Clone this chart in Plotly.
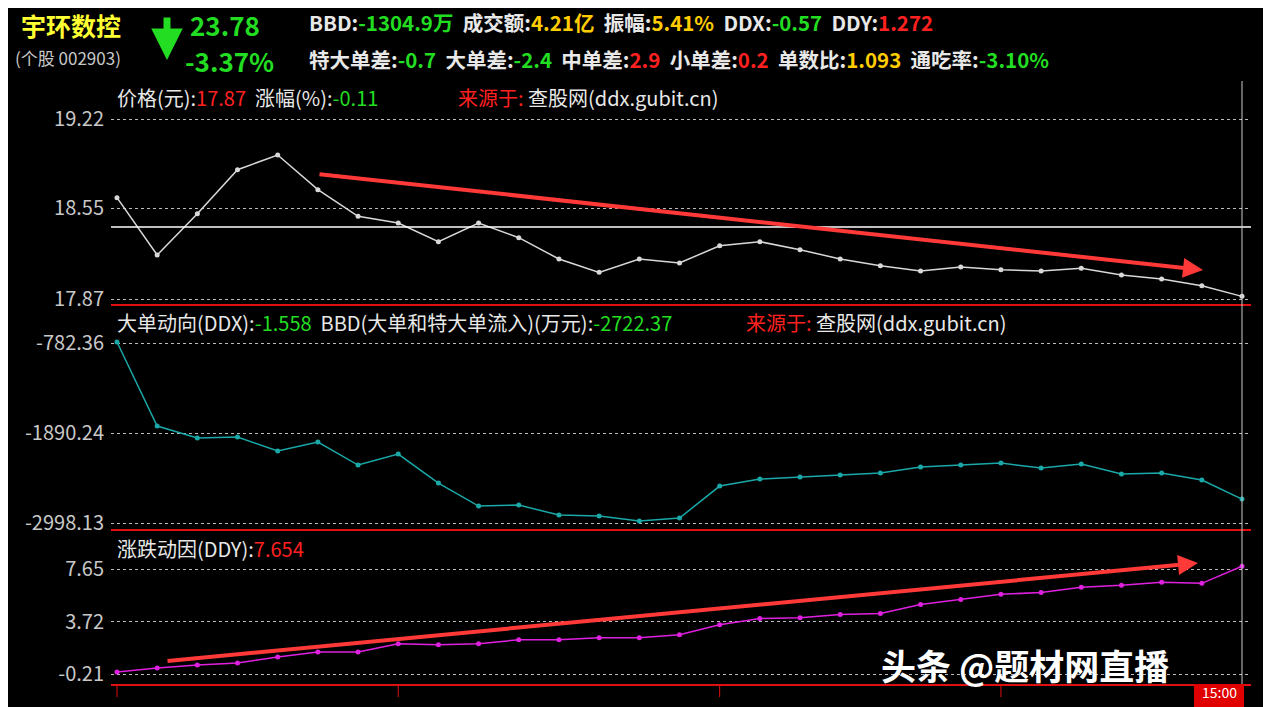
import plotly.graph_objects as go

W, H = 1271, 707

# x positions are minute-bar indices; labels only at a few
times_idx = list(range(29))
tick_idx = [0, 7, 15, 22, 28]
tick_text = ['09:30', '10:16', '11:05', '13:21', '15:00']

price = [18.63, 18.20, 18.51, 18.84, 18.95, 18.69, 18.49, 18.44, 18.30, 18.44,
         18.33, 18.17, 18.07, 18.17, 18.14, 18.27, 18.30, 18.24, 18.17, 18.12,
         18.08, 18.11, 18.09, 18.08, 18.10, 18.05, 18.02, 17.97, 17.89]
ddx = [-770, -1804, -1952, -1940, -2112, -2001, -2284, -2149, -2506, -2789,
       -2777, -2900, -2912, -2974, -2937, -2543, -2457, -2432, -2408, -2383,
       -2309, -2284, -2260, -2321, -2272, -2395, -2383, -2469, -2703]
ddy = [-0.06, 0.24, 0.47, 0.62, 1.07, 1.45, 1.45, 2.06, 1.98, 2.06,
       2.36, 2.36, 2.51, 2.51, 2.74, 3.49, 3.95, 4.02, 4.25, 4.33,
       5.01, 5.39, 5.77, 5.92, 6.30, 6.45, 6.68, 6.60, 7.88]
price_ticks = [17.87, 18.55, 19.22]
ddx_ticks = [-2998.13, -1890.24, -782.36]
ddy_ticks = [-0.21, 3.72, 7.65]
ref_price = 18.41


# screen pixel -> paper fraction (page renders with a small offset)
def py(p):
    return 1 - (p - 8) / 0.99 / H


def px(p):
    return (p - 7) / W


fig = go.Figure()
panels = [
    ('y', price, '#d8d8d8', price_ticks, (81, 305), (17.825, 19.505)),
    ('y2', ddx, '#1aa8a8', ddx_ticks, (305, 530), (-3084.3, -314.6)),
    ('y3', ddy, '#e020e0', ddy_ticks, (530, 685), (-1.04, 10.60)),
]
layout_axes = {}
for i, (ax, vals, col, ticks, (top, bot), rng) in enumerate(panels):
    fig.add_trace(go.Scatter(
        x=times_idx, y=vals, yaxis=ax, mode='lines+markers',
        line=dict(color=col, width=1.5), marker=dict(color=col, size=5),
        showlegend=False,
    ))
    name = 'yaxis' if i == 0 else f'yaxis{i + 1}'
    layout_axes[name] = dict(
        domain=[py(bot), py(top)], range=list(rng), tickvals=ticks,
        ticktext=[f'{t:.2f}' for t in ticks], showgrid=True,
        gridcolor='#bbbbbb', griddash='dot', gridwidth=1, zeroline=False,
        tickfont=dict(color='#c8c8c8', size=20), anchor='x', ticks='',
        ticklabelstandoff=6,
    )

fig.add_hline(y=ref_price, yref='y', line=dict(color='white', width=1.5))

shapes = []
for y in (81, 305, 530, 685):
    shapes.append(dict(type='line', xref='paper', yref='paper',
                       x0=px(110), x1=px(1250), y0=py(y), y1=py(y),
                       line=dict(color='#e01010', width=2)))
shapes.append(dict(type='line', xref='x', yref='paper', x0=28, x1=28,
                   y0=py(685), y1=py(81), line=dict(color='#cccccc', width=1)))
for t in tick_idx[:-1]:
    shapes.append(dict(type='line', xref='x', yref='paper', x0=t, x1=t,
                       y0=py(697), y1=py(685), line=dict(color='#e01010', width=1)))
shapes.append(dict(type='rect', xref='paper', yref='paper', x0=px(1193), x1=px(1243),
                   y0=py(707), y1=py(684), fillcolor='#e00000', line=dict(width=0)))

ann = []


def txt(x, y, s, size=17, color='white', anchor='left'):
    ann.append(dict(x=px(x), y=py(y), xref='paper', yref='paper', text=s,
                    showarrow=False, xanchor=anchor, yanchor='middle',
                    font=dict(size=size, color=color)))


G, R, Y, WH = '#22dd22', '#ff2020', '#ffcc00', '#e8e8e8'
txt(18, 25, '<b>宇环数控</b>', 25, '#ffff33')
txt(12, 57, '(个股 002903)', 17, '#c8c8c8')
txt(187, 24, '<b>23.78</b>', 26, G)
txt(182, 60, '<b>-3.37%</b>', 26, G)
ann.append(dict(x=px(166), y=py(60), ax=0, ay=-44, xref='paper', yref='paper',
                showarrow=True, arrowhead=2, arrowsize=0.9, arrowwidth=7,
                arrowcolor=G, text=''))


def sp(parts):
    return ''.join(f'<span style="color:{c}">{s}</span>' for s, c in parts)


txt(306, 22, '<b>' + sp([('BBD:', WH), ('-1304.9万', G), ('  成交额:', WH), ('4.21亿', Y),
                         ('  振幅:', WH), ('5.41%', Y), ('  DDX:', WH), ('-0.57', G),
                         ('  DDY:', WH), ('1.272', R)]) + '</b>', 20.5)
txt(306, 59, '<b>' + sp([('特大单差:', WH), ('-0.7', G), ('  大单差:', WH), ('-2.4', G),
                         ('  中单差:', WH), ('2.9', R), ('  小单差:', WH), ('0.2', R),
                         ('  单数比:', WH), ('1.093', Y), ('  通吃率:', WH), ('-3.10%', G)]) + '</b>', 20.5)
txt(114, 97, sp([('价格(元):', WH), ('17.87', R), ('  涨幅(%):', WH), ('-0.11', G)]), 20)
txt(455, 97, sp([('来源于: ', R), ('查股网(ddx.gubit.cn)', WH)]), 20)
txt(114, 322, sp([('大单动向(DDX):', WH), ('-1.558', G), ('  BBD(大单和特大单流入)(万元):', WH),
                  ('-2722.37', G)]), 20)
txt(743, 322, sp([('来源于: ', R), ('查股网(ddx.gubit.cn)', WH)]), 20)
txt(114, 548, sp([('涨跌动因(DDY):', WH), ('7.654', R)]), 20)
txt(1218, 692, '15:00', 14, 'white', 'center')
txt(878, 664, '<b>头条 @题材网直播</b>', 35, 'white')

for (x0, y0, x1, y1) in ((317, 174, 1202, 270), (165, 661, 1197, 563)):
    ann.append(dict(x=px(x1), y=py(y1), ax=x0 - x1, ay=y0 - y1, xref='paper', yref='paper',
                    showarrow=True, arrowhead=2,
                    arrowsize=1, arrowwidth=4, arrowcolor='#ff3838', text=''))

fig.update_layout(
    width=W, height=H, paper_bgcolor='black', plot_bgcolor='black',
    margin=dict(l=0, r=0, t=0, b=0),
    font=dict(family='Noto Sans CJK SC, DejaVu Sans'),
    xaxis=dict(domain=[px(110), px(1250)], range=[-0.149, 28.224],
               showgrid=False, zeroline=False, showticklabels=False),
    shapes=shapes, annotations=ann, **layout_axes,
)
fig.write_html('out.html')
